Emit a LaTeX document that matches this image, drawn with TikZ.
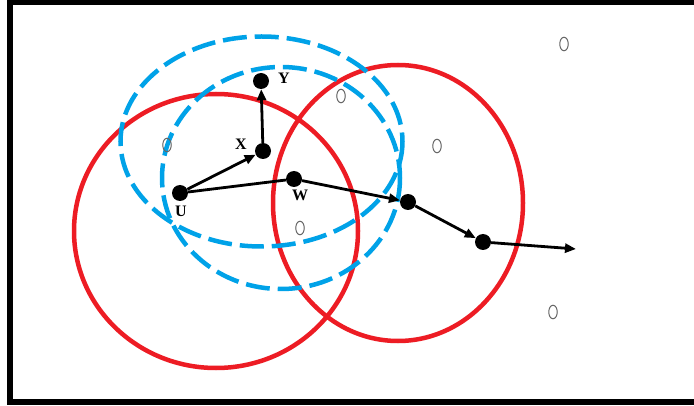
\documentclass[tikz,border=0pt]{standalone}
\usepackage{fontspec}
\setmainfont{Liberation Serif}
\usetikzlibrary{arrows.meta,shapes.geometric}
\definecolor{cred}{RGB}{237,28,36}
\definecolor{cblue}{RGB}{0,162,232}
\begin{document}
\begin{tikzpicture}[x=1pt,y=-1pt,
  dot/.style={circle,fill=black,inner sep=0pt,minimum size=16pt},
  other/.style={ellipse,draw=black!60,line width=1pt,inner sep=0pt,minimum width=8.5pt,minimum height=13.5pt},
  lbl/.style={font=\fontsize{16}{16}\selectfont\bfseries,inner sep=0pt},
  redc/.style={draw=cred,line width=4.5pt},
  bluec/.style={draw=cblue,line width=4.5pt,dash pattern=on 24pt off 8pt},
  arr/.style={line width=2.8pt,-{Triangle[length=11pt,width=9pt]}},
  ln/.style={line width=2.8pt}]
\useasboundingbox (0,0) rectangle (694,406);
\fill[white] (0,0) rectangle (694,406);
% frame
\draw[line width=5.5pt] (694,2.5) -- (10,2.5) -- (10,402) -- (694,402);
% range circles
\draw[redc] (216,231) ellipse [x radius=142, y radius=137];
\draw[redc] (398,203) ellipse [x radius=125, y radius=138];
\draw[bluec] (261.5,141.5) ellipse [x radius=141, y radius=105];
\draw[bluec] (281,178) ellipse [x radius=119, y radius=111];
% other nodes
\node[other] (o1) at (564,44) {};
\node[other] (o2) at (341,96) {};
\node[other] (o3) at (437,146) {};
\node[other] (o4) at (167,145) {};
\node[other] (o5) at (300,228) {};
\node[other] (o6) at (553,312) {};
% path nodes
\node[dot] (U) at (180,193) {};
\node[dot] (X) at (263,151) {};
\node[dot] (Y) at (261,81) {};
\node[dot] (W) at (294,179) {};
\node[dot] (A) at (408,202) {};
\node[dot] (B) at (483,242) {};
\coordinate (E) at (576,249);
% labels
\node[lbl] (lY) at (284,78) {Y};
\node[lbl] (lX) at (241,144) {X};
\node[lbl] (lU) at (181,211) {U};
\node[lbl] (lW) at (300,195) {W};
% connectors
\draw[arr] (U) -- (X);
\draw[arr] (X) -- (Y);
\draw[ln] (U) -- (W);
\draw[arr] (W) -- (A);
\draw[arr] (A) -- (B);
\draw[arr] (B) -- (E);
\end{tikzpicture}
\end{document}
